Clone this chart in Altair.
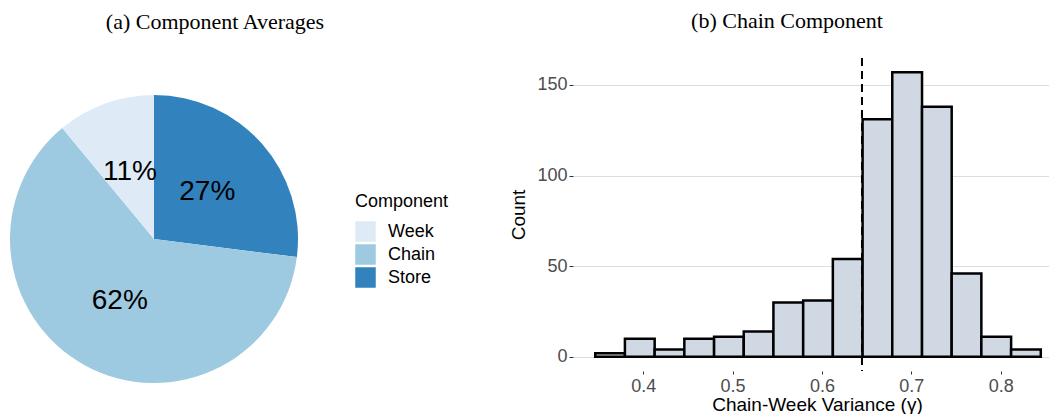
import altair as alt
import pandas as pd

# ---- Panel (a): component averages ----
components = ["Store", "Chain", "Week"]
shares = [27, 62, 11]
share_labels = ["27%", "62%", "11%"]
stack_order = [1, 2, 3]
legend_order = ["Week", "Chain", "Store"]
pie_colors = ["#deebf7", "#9ecae1", "#3182bd"]

# ---- Panel (b): chain component histogram ----
bin_lo = [0.3463, 0.3795, 0.4128, 0.4460, 0.4793, 0.5125, 0.5457, 0.5790,
          0.6122, 0.6455, 0.6787, 0.7120, 0.7452, 0.7784, 0.8117]
bin_hi = [0.3795, 0.4128, 0.4460, 0.4793, 0.5125, 0.5457, 0.5790, 0.6122,
          0.6455, 0.6787, 0.7120, 0.7452, 0.7784, 0.8117, 0.8449]
counts = [2, 10, 4, 10, 11, 14, 30, 31, 54, 131, 157, 138, 46, 11, 4]
mean_line = [0.6448]
x_ticks = [0.4, 0.5, 0.6, 0.7, 0.8]
y_ticks = [0, 50, 100, 150]

pie_df = pd.DataFrame({"Component": components, "share": shares,
                       "label": share_labels, "ord": stack_order})
hist_df = pd.DataFrame({"lo": bin_lo, "hi": bin_hi, "count": counts})
mean_df = pd.DataFrame({"m": mean_line})

SANS = "Liberation Sans"
SERIF = "Liberation Serif"

title_a = alt.TitleParams("(a) Component Averages", font=SERIF, fontSize=22,
                          fontWeight="normal", color="black", anchor="middle",
                          frame="group", offset=24)
title_b = alt.TitleParams("(b) Chain Component", font=SERIF, fontSize=22,
                          fontWeight="normal", color="black", anchor="middle",
                          frame="group", offset=24, dx=-24)

base_pie = alt.Chart(pie_df).encode(
    theta=alt.Theta("share:Q", stack=True),
    order=alt.Order("ord:Q", sort="ascending"),
    x=alt.value(154),
    y=alt.value(181),
)

arcs = base_pie.mark_arc(radius=144, strokeWidth=0).encode(
    color=alt.Color(
        "Component:N",
        scale=alt.Scale(domain=legend_order, range=pie_colors),
        legend=alt.Legend(
            orient="none", legendX=355, legendY=135, title="Component",
            titleFont=SANS, titleFontSize=18, titleFontWeight="normal",
            titleColor="black", titlePadding=10,
            labelFont=SANS, labelFontSize=18, labelColor="black",
            labelOffset=12, symbolType="square", symbolSize=420,
            symbolStrokeWidth=0, symbolOpacity=1, rowPadding=2, padding=0,
        ),
    )
)
pie_text = base_pie.mark_text(radius=71, font=SANS, fontSize=28,
                              color="black").encode(text="label:N")

pie_chart = alt.layer(arcs, pie_text).properties(
    width=430, height=313, title=title_a)

x_scale = alt.Scale(domain=[0.3214, 0.8541], nice=False, zero=False)
y_scale = alt.Scale(domain=[-7.85, 164.85], nice=False, zero=False)

bars = alt.Chart(hist_df).mark_bar(
    fill="#d0d9e3", stroke="black", strokeWidth=2.5
).encode(
    x=alt.X("lo:Q", scale=x_scale,
            axis=alt.Axis(values=x_ticks, format=".1f", grid=False, domain=False,
                          ticks=True, tickSize=3, tickColor="#333333",
                          labelFont=SANS, labelFontSize=18, labelColor="#4d4d4d",
                          labelPadding=3, title="Chain-Week Variance (\u03b3)",
                          titleFont=SANS, titleFontSize=19,
                          titleFontWeight="normal", titleColor="black",
                          titlePadding=0, titleX=244)),
    x2="hi:Q",
    y=alt.Y("count:Q", scale=y_scale,
            axis=alt.Axis(values=y_ticks, grid=True, gridColor="#dedede",
                          gridWidth=1.2, domain=False, ticks=True, tickSize=4,
                          tickColor="#333333", labelFont=SANS, labelFontSize=18,
                          labelColor="#4d4d4d", labelPadding=2, title="Count",
                          titleFont=SANS, titleFontSize=19,
                          titleFontWeight="normal", titleColor="black",
                          titlePadding=8)),
    y2=alt.datum(0),
)

vline = alt.Chart(mean_df).mark_rule(
    color="black", strokeWidth=2, strokeDash=[8, 5]
).encode(x=alt.X("m:Q", scale=x_scale))

hist_chart = alt.layer(bars, vline).properties(
    width=476, height=313, title=title_b)

chart = alt.hconcat(pie_chart, hist_chart, spacing=79).properties(
    padding={"left": 0, "top": 10, "right": 0, "bottom": 0}
).configure(background="white").configure_view(strokeWidth=0, stroke="transparent")

chart.save("out.html", embed_options={"renderer": "svg", "actions": False})
